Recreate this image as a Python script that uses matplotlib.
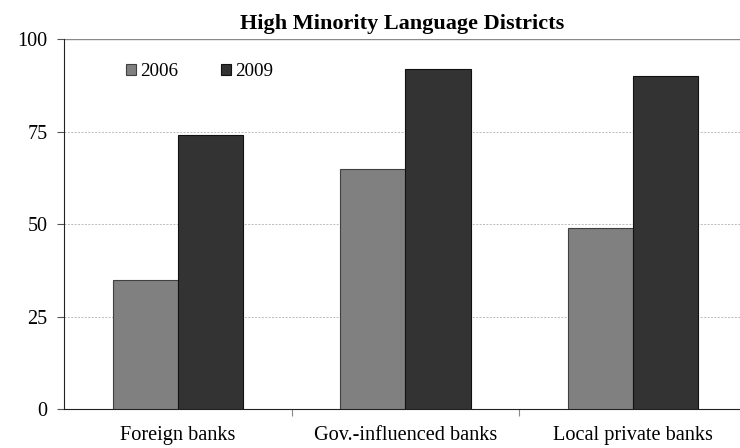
import matplotlib
matplotlib.use("Agg")
from matplotlib import pyplot as plt
import numpy as np

categories = ["Foreign banks", "Gov.-influenced banks", "Local private banks"]
series_names = ["2006", "2009"]
values_2006 = [35, 65, 49]
values_2009 = [74, 92, 90]
yticks = [0, 25, 50, 75, 100]

plt.rcParams['font.family'] = ['Liberation Serif', 'DejaVu Serif']

fig = plt.figure(figsize=(7.4, 4.48), dpi=100)
ax = fig.add_axes([64/740, 39/448, 676/740, 370/448])

x = np.arange(len(categories))
w = 0.286
ax.bar(x - w/2, values_2006, w, color='#808080', edgecolor='#404040', linewidth=0.8,
       label=series_names[0], zorder=3)
ax.bar(x + w/2, values_2009, w, color='#333333', edgecolor='#111111', linewidth=0.8,
       label=series_names[1], zorder=3)

ax.set_ylim(0, 100)
ax.set_xlim(-0.5, 2.47)
ax.set_yticks(yticks)
ax.set_yticklabels([str(v) for v in yticks], fontsize=14.5)
for v in yticks[1:-1]:
    ax.axhline(v, color='#bbbbbb', linestyle=(0, (2, 1.5)), linewidth=0.7, zorder=1)
ax.axhline(100, color='#888888', linewidth=1.0, zorder=1)

ax.set_xticks([0.5, 1.5])
ax.set_xticklabels([])
ax.set_xticks(x, minor=True)
ax.set_xticklabels(categories, minor=True, fontsize=14.6)
ax.tick_params(axis='x', which='minor', length=0, pad=12)
ax.tick_params(axis='x', which='major', length=5, color='#888888', direction='out')
ax.tick_params(axis='y', length=5, direction='out', pad=7, color='#555555')

for s in ['top', 'right']:
    ax.spines[s].set_visible(False)
ax.spines['left'].set_color('#222222')
ax.spines['bottom'].set_color('#222222')

ax.set_title("High Minority Language Districts", fontsize=16, fontweight='bold', pad=7)

leg = ax.legend(loc='upper left', bbox_to_anchor=(0.08, 0.955), ncol=2, frameon=False,
                fontsize=13.8, handlelength=0.52, handleheight=0.52, handletextpad=0.25,
                columnspacing=2.2, borderaxespad=0)

fig.savefig("out.png", dpi=100)
